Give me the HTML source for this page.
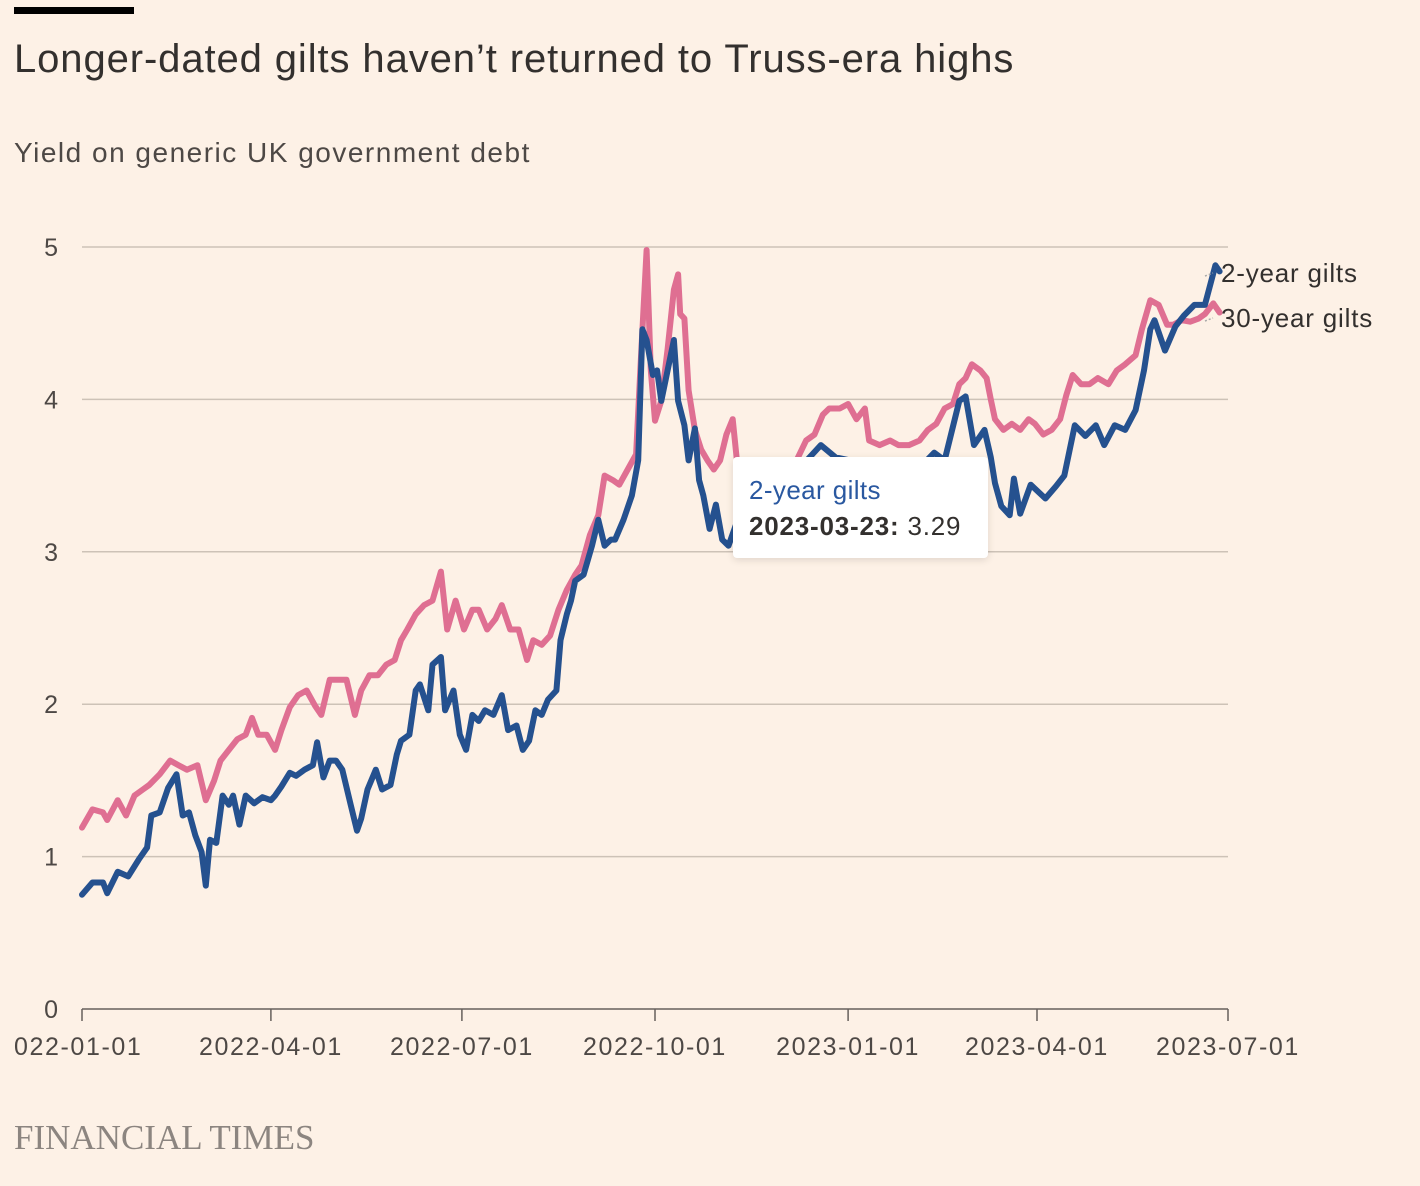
<!DOCTYPE html>
<html><head><meta charset="utf-8"><style>
html,body{margin:0;padding:0;background:#fdf1e6;}
body{width:1420px;height:1186px;position:relative;overflow:hidden;font-family:"Liberation Sans",sans-serif;}
#bar{position:absolute;left:14px;top:7px;width:120px;height:7px;background:#000;}
#title{position:absolute;left:14px;top:37px;font-size:40px;letter-spacing:0.9px;color:#33302e;}
#sub{position:absolute;left:14px;top:137px;font-size:28px;letter-spacing:1.5px;color:#4d4845;}
#ft{position:absolute;left:14px;top:1118px;font-family:"Liberation Serif",serif;font-size:35px;color:#8c8580;}
#tip{position:absolute;left:733px;top:457px;width:255px;height:101px;background:#fff;border-radius:4px;box-shadow:0 2px 8px rgba(0,0,0,0.12);}
#tip .a{position:absolute;left:16px;top:18px;font-size:26px;letter-spacing:0.4px;color:#2a58a0;}
#tip .b{position:absolute;left:16px;top:54px;font-size:26px;letter-spacing:0.8px;color:#33302e;}
svg{position:absolute;left:0;top:0;}
</style></head><body>
<div id="bar"></div>
<div id="title">Longer-dated gilts haven’t returned to Truss-era highs</div>
<div id="sub">Yield on generic UK government debt</div>
<svg id="chart" width="1420" height="1186"></svg>
<div id="tip"><div class="a">2-year gilts</div><div class="b"><b>2023-03-23:</b> 3.29</div></div>
<div id="ft">FINANCIAL TIMES</div>
<script>
const yTicks=[0,1,2,3,4,5];
const xTickLabels=["022-01-01","2022-04-01","2022-07-01","2022-10-01","2023-01-01","2023-04-01","2023-07-01"];
const xTickDays=[0,90,181,273,365,455,546];
const twoYearDays=[0,5,10,12,17,22,27,31,33,37,41,45,48,51,54,57,59,61,64,67,70,72,75,78,82,86,90,92,95,99,102,106,110,112,115,118,121,124,128,131,133,136,140,143,147,150,152,156,159,161,165,167,171,173,177,180,183,186,189,192,196,200,203,207,210,213,216,219,222,226,228,231,233,235,239,243,246,249,252,254,258,262,265,267,269,272,274,276,279,282,284,287,289,292,294,296,299,302,305,308,316,323,333,342,352,359,366,375,383,390,399,406,411,418,421,425,430,433,435,438,442,444,447,452,459,464,468,473,478,483,487,492,497,502,506,509,511,516,521,525,530,535,540,542];
const twoYearVals=[0.75,0.83,0.83,0.76,0.90,0.87,0.98,1.06,1.27,1.29,1.45,1.54,1.27,1.29,1.14,1.03,0.81,1.11,1.09,1.40,1.34,1.40,1.21,1.40,1.35,1.39,1.37,1.40,1.46,1.55,1.53,1.57,1.60,1.75,1.52,1.63,1.63,1.57,1.34,1.17,1.25,1.44,1.57,1.44,1.47,1.67,1.76,1.80,2.09,2.13,1.96,2.26,2.31,1.96,2.09,1.80,1.70,1.93,1.89,1.96,1.93,2.06,1.83,1.86,1.70,1.76,1.96,1.93,2.03,2.09,2.42,2.59,2.68,2.81,2.85,3.04,3.21,3.04,3.08,3.08,3.21,3.37,3.60,4.46,4.39,4.16,4.19,3.99,4.19,4.39,3.99,3.83,3.60,3.81,3.47,3.37,3.15,3.31,3.08,3.04,3.35,3.45,3.55,3.55,3.70,3.62,3.60,3.55,3.50,3.55,3.55,3.65,3.60,3.99,4.02,3.70,3.80,3.62,3.45,3.30,3.24,3.48,3.25,3.44,3.35,3.43,3.50,3.83,3.76,3.83,3.70,3.83,3.80,3.93,4.19,4.46,4.52,4.32,4.48,4.55,4.62,4.62,4.88,4.84];
const thirtyYearDays=[0,5,10,12,17,21,25,29,32,37,42,46,50,55,59,63,66,70,74,78,81,84,88,92,95,99,103,107,111,114,118,122,126,130,133,137,141,145,149,152,155,159,163,167,171,174,178,182,186,189,193,197,200,204,208,212,215,219,223,227,231,235,238,242,246,249,253,256,260,264,266,269,271,273,276,279,282,284,285,287,289,292,295,298,301,304,307,310,312,318,328,337,345,349,353,356,361,365,369,373,375,380,385,389,394,399,403,407,411,415,418,421,424,428,431,433,435,439,443,447,451,454,458,462,466,469,472,476,480,484,489,493,497,502,505,509,513,517,520,524,528,532,535,539,542];
const thirtyYearVals=[1.19,1.31,1.29,1.24,1.37,1.27,1.40,1.44,1.47,1.54,1.63,1.60,1.57,1.60,1.37,1.50,1.63,1.70,1.77,1.80,1.91,1.80,1.80,1.70,1.83,1.98,2.06,2.09,1.99,1.93,2.16,2.16,2.16,1.93,2.09,2.19,2.19,2.26,2.29,2.42,2.49,2.59,2.65,2.68,2.87,2.49,2.68,2.49,2.62,2.62,2.49,2.56,2.65,2.49,2.49,2.29,2.42,2.39,2.45,2.62,2.75,2.85,2.91,3.11,3.24,3.50,3.47,3.44,3.54,3.64,4.19,4.98,4.19,3.86,3.99,4.33,4.72,4.82,4.56,4.53,4.06,3.80,3.67,3.60,3.54,3.60,3.77,3.87,3.60,3.55,3.60,3.50,3.73,3.77,3.90,3.94,3.94,3.97,3.87,3.94,3.73,3.70,3.73,3.70,3.70,3.73,3.80,3.84,3.94,3.97,4.10,4.14,4.23,4.19,4.14,4.00,3.87,3.80,3.84,3.80,3.87,3.84,3.77,3.80,3.87,4.03,4.16,4.10,4.10,4.14,4.10,4.19,4.23,4.29,4.46,4.65,4.62,4.49,4.49,4.52,4.51,4.53,4.56,4.63,4.57];

const NS="http://www.w3.org/2000/svg";
const svg=document.getElementById('chart');
const X0=82,X1=1228,Y0=1009,Y5=247;
const xs=d=>X0+(X1-X0)*d/546;
const ys=v=>Y0+(Y5-Y0)*v/5;
function mk(t,a){const e=document.createElementNS(NS,t);for(const k in a)e.setAttribute(k,a[k]);svg.appendChild(e);return e;}
yTicks.forEach(v=>{
  if(v>0){const g=mk('line',{x1:82,x2:1228,y1:ys(v),y2:ys(v),stroke:'#cdc2b7','stroke-width':1.5});
  
  }
  const t=mk('text',{x:58,y:ys(v)+9,'text-anchor':'end','font-size':25,fill:'#4d4845','font-family':'Liberation Sans, sans-serif'});
  t.textContent=v;
  
  
});
const ax=mk('line',{x1:82,x2:1228,y1:Y0,y2:Y0,stroke:'#66605c','stroke-width':1.5});


xTickDays.forEach((d,i)=>{
  const tk=mk('line',{x1:xs(d),x2:xs(d),y1:Y0,y2:Y0+12,stroke:'#66605c','stroke-width':1.5});
  
  
  const t=mk('text',{x:xs(d),y:1055,'text-anchor':i==0?'start':'middle','font-size':25,'letter-spacing':1.6,fill:'#4d4845','font-family':'Liberation Sans, sans-serif'});
  if(i==0){t.setAttribute('x',14);}
  t.textContent=xTickLabels[i];
  
  
});
function line(days,vals,color,name){
  const p=mk('path',{d:days.map((d,i)=>(i?'L':'M')+xs(d).toFixed(1)+' '+ys(vals[i]).toFixed(1)).join(''),fill:'none',stroke:color,'stroke-width':6,'stroke-linejoin':'round','stroke-linecap':'round'});
  
  
}
line(thirtyYearDays,thirtyYearVals,'#df6f92','line-30-year-gilts');
line(twoYearDays,twoYearVals,'#25518f','line-2-year-gilts');
function lab(days,vals,txt,ly,name){
  const c=mk('line',{x1:1205,y1:ly-6,x2:1213,y2:ly-9,stroke:'#aaa','stroke-width':1.5,'stroke-dasharray':'2 2'});
  
  
  const t=mk('text',{x:1221,y:ly,'font-size':26,'letter-spacing':0.8,fill:'#33302e','font-family':'Liberation Sans, sans-serif'});
  t.textContent=txt;
  
  
}
lab(twoYearDays,twoYearVals,'2-year gilts',282,'label-2-year-gilts');
lab(thirtyYearDays,thirtyYearVals,'30-year gilts',327,'label-30-year-gilts');
</script>
</body></html>
